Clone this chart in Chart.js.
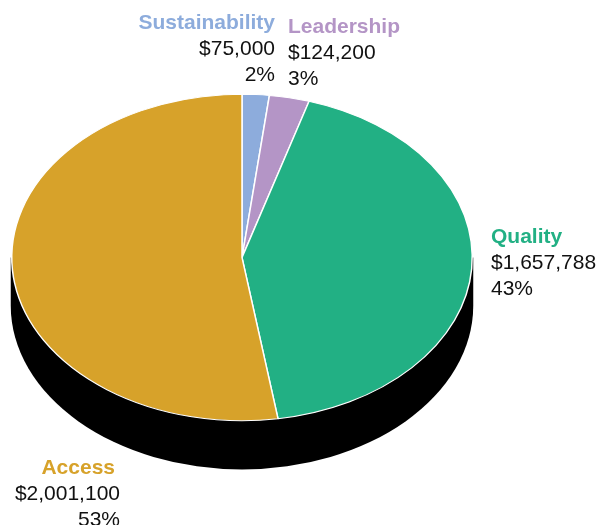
<!DOCTYPE html>
<html>
<head>
<meta charset="utf-8">
<script src="https://cdn.jsdelivr.net/npm/chart.js"></script>
<style>
html, body { margin: 0; padding: 0; background: #fff; overflow: hidden; }
#wrap { position: relative; width: 599px; height: 525px; overflow: hidden; }
#pie { position: absolute; left: 0; top: 0; }
.pie-label {
    position: absolute;
    font-family: "Liberation Sans", Arial, sans-serif;
    font-size: 21px;
    line-height: 26px;
    color: #111;
    white-space: nowrap;
}
.pie-label b { display: block; }
.label-0 { right: 324px; top: 9px; text-align: right; }
.label-1 { left: 288px; top: 13px; }
.label-2 { left: 491px; top: 223px; }
.label-3 { right: 479px; top: 454px; text-align: right; }
.label-3 b { margin-right: 5px; }
</style>
</head>
<body>
<div id="wrap">
    <canvas id="pie" width="599" height="525"></canvas>
</div>
<script>
const categories = ['Sustainability', 'Leadership', 'Quality', 'Access'];
const amountLabels = ['$75,000', '$124,200', '$1,657,788', '$2,001,100'];
const percentLabels = ['2%', '3%', '43%', '53%'];
const sliceShares = [1.9, 2.8, 42.8, 52.5];
const sliceColors = ['#8DACDC', '#B495C6', '#22B084', '#D7A22A'];

// Flatten the round pie into an ellipse and add the black side wall
const SQUASH = 0.709;
const DEPTH = 48;

const tiltPlugin = {
    id: 'tilt',
    beforeDatasetsDraw(chart) {
        const ctx = chart.ctx;
        const arc = chart.getDatasetMeta(0).data[0];
        const r = arc.outerRadius;

        ctx.save();
        ctx.fillStyle = '#000';
        ctx.beginPath();
        ctx.ellipse(arc.x, arc.y + DEPTH, r + 1, (r + 1) * SQUASH, 0, 0, Math.PI);
        ctx.lineTo(arc.x - r - 1, arc.y);
        ctx.lineTo(arc.x + r + 1, arc.y);
        ctx.closePath();
        ctx.fill();
        ctx.restore();

        ctx.save();
        ctx.translate(0, arc.y);
        ctx.scale(1, SQUASH);
        ctx.translate(0, -arc.y);
    },
    afterDatasetsDraw(chart) {
        chart.ctx.restore();
    }
};

new Chart(document.getElementById('pie'), {
    type: 'pie',
    data: {
        labels: categories,
        datasets: [{
            data: sliceShares,
            backgroundColor: sliceColors,
            borderColor: '#ffffff',
            borderWidth: 1.5,
            clip: false
        }]
    },
    options: {
        responsive: false,
        animation: false,
        layout: {
            padding: { top: 26.5, bottom: 36.5, left: 11, right: 126 }
        },
        plugins: {
            legend: { display: false },
            tooltip: { enabled: false }
        }
    },
    plugins: [tiltPlugin]
});

// Labels are plain HTML text
const wrap = document.getElementById('wrap');
categories.forEach((name, i) => {
    const div = document.createElement('div');
    div.className = `pie-label label-${i}`;
    div.innerHTML = `<b style="color:${sliceColors[i]}">${name}</b>` +
        `${amountLabels[i]}<br>${percentLabels[i]}`;
    wrap.appendChild(div);
});
</script>
</body>
</html>
